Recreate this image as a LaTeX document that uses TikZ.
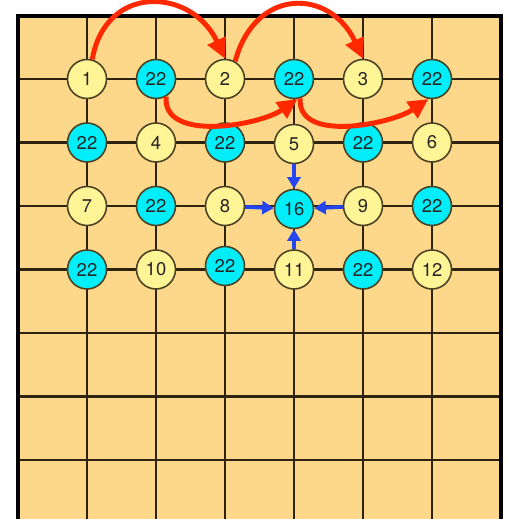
\documentclass[tikz,border=0pt]{standalone}
\usepackage{fontspec}
\setsansfont{TeX Gyre Heros}
\usetikzlibrary{arrows.meta}
\definecolor{boardtan}{RGB}{254,216,138}
\definecolor{gridbrown}{RGB}{45,35,15}
\definecolor{freeyel}{RGB}{255,244,150}
\definecolor{busycyan}{RGB}{0,238,250}
\definecolor{stoneline}{RGB}{75,65,35}
\definecolor{hopred}{RGB}{255,40,0}
\definecolor{pullblue}{RGB}{35,70,240}

\begin{document}
\begin{tikzpicture}[x=0.02cm, y=-0.02cm, font=\sffamily\fontsize{10.5}{12}\selectfont,
gridline/.style={draw=gridbrown, line width=1.3pt},
stone/.style={circle, draw=stoneline, line width=0.9pt, minimum size=0.78cm, inner sep=0pt, text=black!85},
free/.style={stone, fill=freeyel},
busy/.style={stone, fill=busycyan},
hop/.style={draw=hopred, line width=2.8pt, -{Triangle[length=4mm, width=3.8mm]}},
pull/.style={draw=pullblue, line width=2.2pt, -{Triangle[length=2.3mm, width=2.6mm]}}]
\useasboundingbox (0,0) rectangle (505,519);
% board
\fill[boardtan] (18,16) rectangle (501,519);
\foreach \x in {87,156,225,294,363,432} \draw[gridline] (\x,16) -- (\x,519);
\foreach \y in {79,142.5,206,269.5,333,396.5,460} \draw[gridline] (18,\y) -- (501,\y);
\draw[line width=2.2pt] (18,519) -- (18,16) -- (501,16) -- (501,519);
% row 1
\node[free] (n1) at (87,79) {1};
\node[busy] (t1) at (156,79) {22};
\node[free] (n2) at (225,79) {2};
\node[busy] (t2) at (294,79) {22};
\node[free] (n3) at (363,79) {3};
\node[busy] (t3) at (432,79) {22};
% row 2
\node[busy] (t4) at (87,142.5) {22};
\node[free] (n4) at (156,142.5) {4};
\node[busy] (t5) at (225,142.5) {22};
\node[free] (n5) at (294,144) {5};
\node[busy] (t6) at (363,142.5) {22};
\node[free] (n6) at (432,142.5) {6};
% row 3
\node[free] (n7) at (87,206) {7};
\node[busy] (t7) at (156,206) {22};
\node[free] (n8) at (225,206) {8};
\node[busy] (c16) at (294,209) {16};
\node[free] (n9) at (363,206) {9};
\node[busy] (t8) at (432,206) {22};
% row 4
\node[busy] (t9) at (87,269.5) {22};
\node[free] (n10) at (156,269.5) {10};
\node[busy] (t10) at (225,266) {22};
\node[free] (n11) at (294,269.5) {11};
\node[busy] (t11) at (363,269.5) {22};
\node[free] (n12) at (432,269.5) {12};
% red hops
\draw[hop] (n1.75) to[out=80, in=115, looseness=1.5] (n2.north);
\draw[hop] (n2.60) to[out=75, in=115, looseness=1.55] (n3.north);
\draw[hop] (t1.-60) to[out=-95, in=-145, looseness=0.9] (t2.-80);
\draw[hop] (t2.-72) to[out=-95, in=-146, looseness=0.9] (t3.-100);
% blue pulls
\draw[pull] (n5) -- (c16);
\draw[pull] (n8) -- (c16);
\draw[pull] (n9) -- (c16);
\draw[pull] (n11) -- (c16);
\end{tikzpicture}
\end{document}
